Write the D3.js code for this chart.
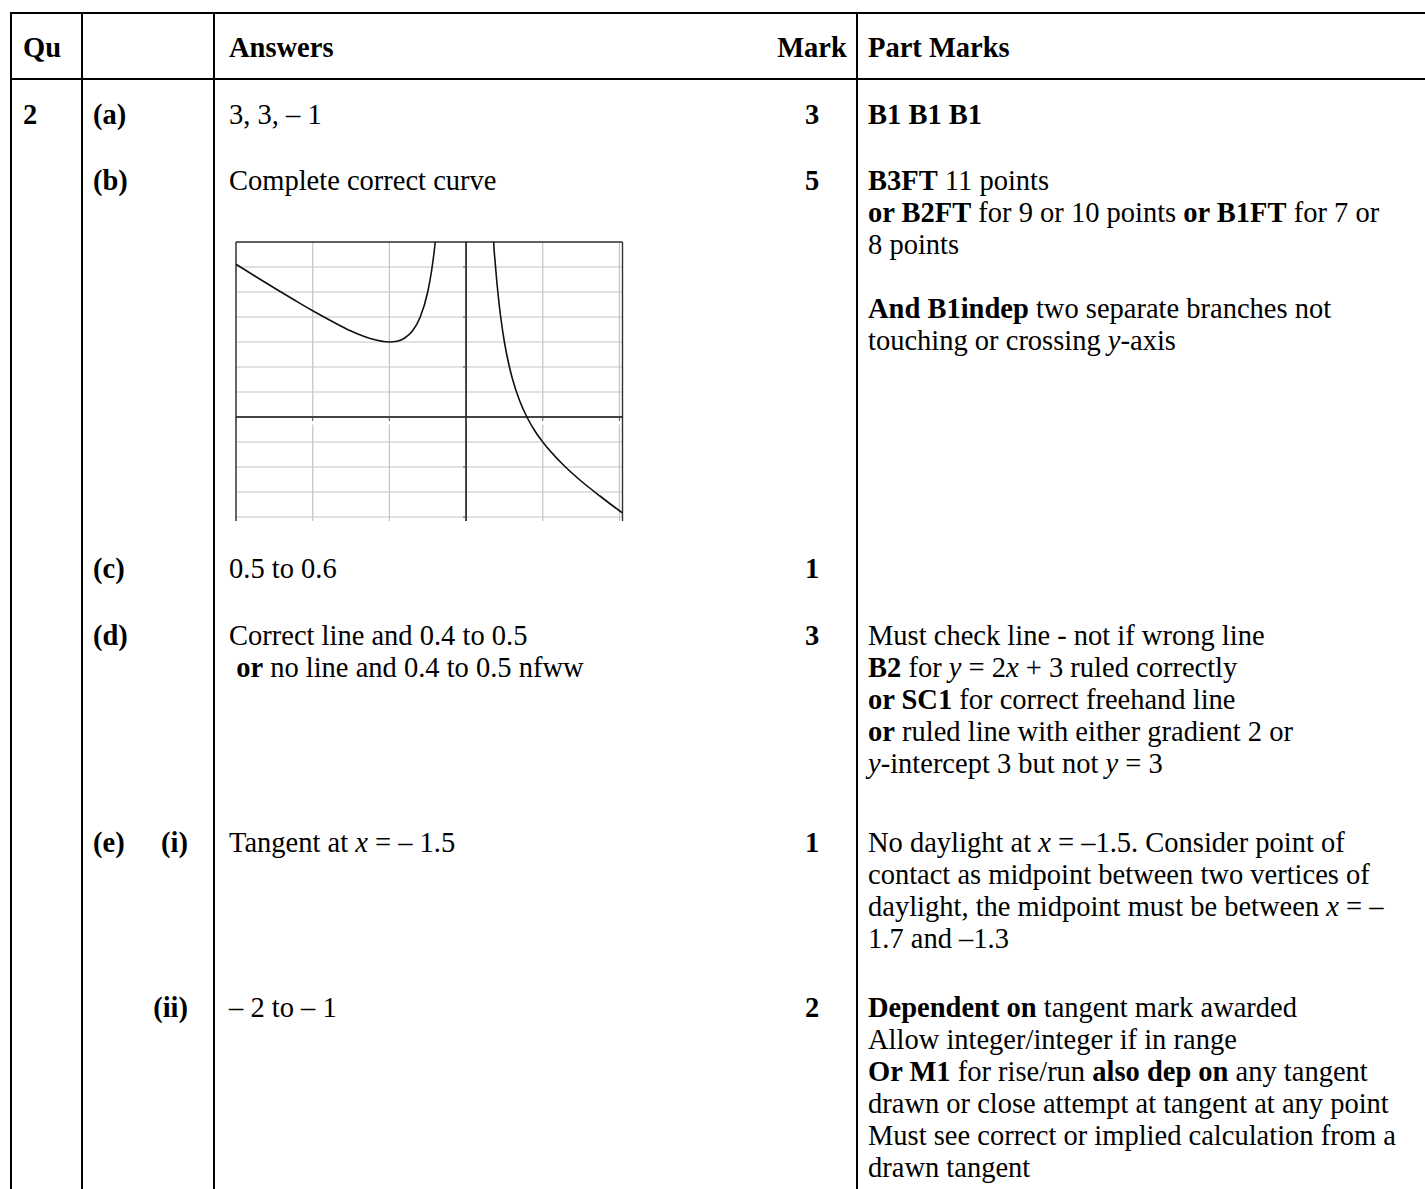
<!DOCTYPE html>
<html>
<head>
<meta charset="utf-8">
<script src="https://cdn.jsdelivr.net/npm/d3@7"></script>
<style>
  body { margin: 0; background: #fff; }
  svg { display: block; }
  text { font-family: "Liberation Serif", "Times New Roman", serif; fill: #000; }
</style>
</head>
<body>
<div id="chart"></div>
<script>
// table content
const headers = ["Qu", "", "Answers", "Mark", "Part Marks"];
const rowY = [115, 181, 569, 636, 843, 1008];
const quLabels = ["2", "", "", "", "", ""];
const partLabels = ["(a)", "(b)", "(c)", "(d)", "(e)", ""];
const subLabels = ["", "", "", "", "(i)", "(ii)"];
const answers = [
    ["3, 3, – 1"],
    ["Complete correct curve"],
    ["0.5 to 0.6"],
    ["Correct line and 0.4 to 0.5", " **or** no line and 0.4 to 0.5 nfww"],
    ["Tangent at _x_ = – 1.5"],
    ["– 2 to – 1"]
];
const marks = ["3", "5", "1", "3", "1", "2"];
const partMarks = [
    ["**B1 B1 B1**"],
    ["**B3FT** 11 points",
     "**or B2FT** for 9 or 10 points **or B1FT** for 7 or",
     "8 points",
     "",
     "**And B1indep** two separate branches not",
     "touching or crossing _y_-axis"],
    [],
    ["Must check line - not if wrong line",
     "**B2** for _y_ = 2_x_ + 3 ruled correctly",
     "**or SC1** for correct freehand line",
     "**or** ruled line with either gradient 2 or",
     "_y_-intercept 3 but not _y_ = 3"],
    ["No daylight at _x_ = –1.5. Consider point of",
     "contact as midpoint between two vertices of",
     "daylight, the midpoint must be between _x_ = –",
     "1.7 and –1.3"],
    ["**Dependent on** tangent mark awarded",
     "Allow integer/integer if in range",
     "**Or M1** for rise/run **also dep on** any tangent",
     "drawn or close attempt at tangent at any point",
     "Must see correct or implied calculation from a",
     "drawn tangent"]
];

// graph of the answer curve (two branches)
const xTicks = [-3, -2, -1, 0, 1, 2];
const yGrid = [-4, -3, -2, -1, 0, 1, 2, 3, 4, 5, 6, 7];
const yTicks = [-4, -2, 2, 4, 6];
const leftBranch = [
    [-3, 6.11], [-2.75, 5.63], [-2.5, 5.16], [-2.25, 4.70], [-2, 4.25],
    [-1.75, 3.83], [-1.5, 3.44], [-1.25, 3.14], [-1, 3.00], [-0.9, 3.03],
    [-0.8, 3.16], [-0.7, 3.44], [-0.6, 3.98], [-0.5, 5.00], [-0.45, 5.84],
    [-0.42, 6.51], [-0.4, 7.05], [-0.38, 7.69]
];
const rightBranch = [
    [0.34, 8.97], [0.36, 7.00], [0.38, 6.17], [0.4, 5.45], [0.42, 4.83],
    [0.45, 4.04], [0.5, 3.00], [0.55, 2.21], [0.6, 1.58], [0.7, 0.64],
    [0.8, -0.04], [0.9, -0.57], [1, -1.00], [1.25, -1.86], [1.5, -2.56],
    [1.75, -3.17], [2, -3.75], [2.1, -3.97]
];

const width = 1425, height = 1189;
const fontSize = 28.5, lineH = 32, baseShift = 9;
const colX = { qu: 23, part: 93, subEnd: 188, answer: 229, mark: 812, partMarks: 868 };
const ruleX = [11, 82, 214, 857];

const svg = d3.select("#chart").append("svg")
    .attr("width", width)
    .attr("height", height);

// draws a line of text with **bold** and _italic_ pieces
function richText(g, str, x, y, anchor) {
    const t = g.append("text")
        .attr("x", x)
        .attr("y", y)
        .attr("font-size", fontSize)
        .attr("text-anchor", anchor || "start")
        .attr("xml:space", "preserve");
    const parts = str.split(/(\*\*[^*]+\*\*|_[^_]+_)/).filter(s => s.length);
    parts.forEach(p => {
        const span = t.append("tspan");
        if (p.startsWith("**")) {
            span.attr("font-weight", "bold").text(p.slice(2, -2));
        } else if (p.startsWith("_")) {
            span.attr("font-style", "italic").text(p.slice(1, -1));
        } else {
            span.text(p);
        }
    });
    return t;
}

// table rules
const rules = svg.append("g").attr("stroke", "#000").attr("stroke-width", 2);
rules.append("line").attr("x1", 10).attr("x2", width).attr("y1", 13).attr("y2", 13);
rules.append("line").attr("x1", 10).attr("x2", width).attr("y1", 79).attr("y2", 79);
ruleX.forEach(x => {
    rules.append("line").attr("x1", x).attr("x2", x).attr("y1", 12).attr("y2", height);
});

// header
const head = svg.append("g");
const headX = [colX.qu, colX.part, colX.answer, colX.mark, colX.partMarks];
headers.forEach((h, i) => {
    if (!h) return;
    richText(head, "**" + h + "**", headX[i], 48 + baseShift, i === 3 ? "middle" : "start");
});

// body rows
const body = svg.append("g");
rowY.forEach((y, i) => {
    const base = y + baseShift;
    if (quLabels[i]) richText(body, "**" + quLabels[i] + "**", colX.qu, base);
    if (partLabels[i]) richText(body, "**" + partLabels[i] + "**", colX.part, base);
    if (subLabels[i]) richText(body, "**" + subLabels[i] + "**", colX.subEnd, base, "end");
    answers[i].forEach((s, j) => richText(body, s, colX.answer, base + j * lineH));
    richText(body, "**" + marks[i] + "**", colX.mark, base, "middle");
    partMarks[i].forEach((s, j) => {
        if (s) richText(body, s, colX.partMarks, base + j * lineH);
    });
});

// small graph in row (b)
const gx = d3.scaleLinear().domain([-3, 2.04]).range([236, 622.5]);
const gy = d3.scaleLinear().domain([-4.16, 7]).range([521, 242]);
const graph = svg.append("g");

graph.append("clipPath").attr("id", "plot")
    .append("rect")
    .attr("x", gx(-3)).attr("y", gy(7))
    .attr("width", gx(2.04) - gx(-3)).attr("height", gy(-4.16) - gy(7));

graph.append("g")
    .selectAll("line")
    .data(yGrid)
    .join("line")
    .attr("x1", gx(-3)).attr("x2", gx(2.04))
    .attr("y1", d => gy(d)).attr("y2", d => gy(d))
    .attr("stroke", "#c4c4c4").attr("stroke-width", 1.2);

graph.append("g")
    .selectAll("line")
    .data(xTicks)
    .join("line")
    .attr("x1", d => gx(d)).attr("x2", d => gx(d))
    .attr("y1", gy(7)).attr("y2", gy(-4.16))
    .attr("stroke", "#c4c4c4").attr("stroke-width", 1.2);

// gaps in the vertical grid just under the x axis
graph.append("g")
    .selectAll("rect")
    .data(xTicks.filter(d => d !== 0 && d !== -3))
    .join("rect")
    .attr("x", d => gx(d) - 2).attr("y", gy(0) + 1.5)
    .attr("width", 4).attr("height", 6)
    .attr("fill", "#fff");

// frame
const frame = graph.append("g").attr("stroke", "#333").attr("stroke-width", 1.4).attr("fill", "none");
frame.append("line").attr("x1", gx(-3)).attr("x2", gx(2.04)).attr("y1", gy(7)).attr("y2", gy(7));
frame.append("line").attr("x1", gx(-3)).attr("x2", gx(-3)).attr("y1", gy(7)).attr("y2", gy(-4.16));
frame.append("line").attr("x1", gx(2.04)).attr("x2", gx(2.04)).attr("y1", gy(7)).attr("y2", gy(-4.16));

// axes
const axes = graph.append("g").attr("stroke", "#111").attr("stroke-width", 1.5);
axes.append("line").attr("x1", gx(-3)).attr("x2", gx(2.04)).attr("y1", gy(0)).attr("y2", gy(0));
axes.append("line").attr("x1", gx(0)).attr("x2", gx(0)).attr("y1", gy(7)).attr("y2", gy(-4.16));

graph.append("g")
    .selectAll("line")
    .data(xTicks)
    .join("line")
    .attr("x1", d => gx(d)).attr("x2", d => gx(d))
    .attr("y1", gy(0)).attr("y2", gy(0) + 4)
    .attr("stroke", "#555").attr("stroke-width", 1);

graph.append("g")
    .selectAll("line")
    .data(yTicks)
    .join("line")
    .attr("x1", gx(0) - 3).attr("x2", gx(0))
    .attr("y1", d => gy(d)).attr("y2", d => gy(d))
    .attr("stroke", "#555").attr("stroke-width", 1);

const curve = d3.line()
    .x(d => gx(d[0]))
    .y(d => gy(d[1]))
    .curve(d3.curveMonotoneX);

graph.append("g")
    .attr("clip-path", "url(#plot)")
    .selectAll("path")
    .data([leftBranch, rightBranch])
    .join("path")
    .attr("d", curve)
    .attr("fill", "none")
    .attr("stroke", "#111")
    .attr("stroke-width", 1.6);
</script>
</body>
</html>
